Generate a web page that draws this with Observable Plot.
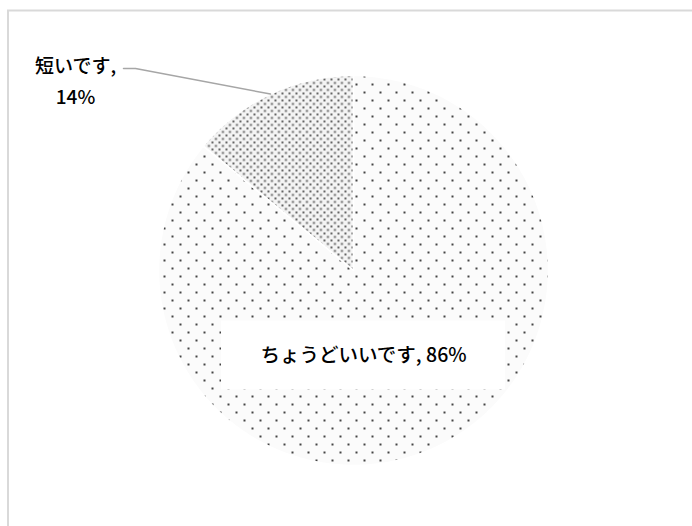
<!DOCTYPE html>
<html><head><meta charset="utf-8">
<script src="https://cdn.jsdelivr.net/npm/d3@7"></script>
<script src="https://cdn.jsdelivr.net/npm/@observablehq/plot@0.6"></script>
<style>body{margin:0;background:#fff;} svg{display:block;}</style>
</head><body><div id="chart"></div>
<script>
// ---- data ----
const categories = ["短いです", "ちょうどいいです"];
const percents = [14, 86];
const labelTexts = ["短いです,\n14%", "ちょうどいいです, 86%"];

// ---- layout ----
const W = 692, H = 526;
const cx = 353, cy = 270, R = 195;   // pixel centre & radius of the pie
const px = v => v / R;               // pixels -> unit radius

const data = categories.map((c, i) => ({key: c, value: percents[i], label: labelTexts[i]}));
const arcs = d3.pie().sort(null).value(d => d.value).startAngle(0).endAngle(-2 * Math.PI)(data);

function slicePolygon(a) {
  const n = Math.max(8, Math.ceil(Math.abs(a.endAngle - a.startAngle) / (2 * Math.PI) * 360));
  const pts = [{x: 0, y: 0}];
  for (let k = 0; k <= n; k++) {
    const t = a.startAngle + (a.endAngle - a.startAngle) * k / n;
    pts.push({x: Math.sin(t), y: Math.cos(t)});
  }
  pts.push({x: 0, y: 0});
  return pts;
}
const fills = ["url(#dense)", "url(#sparse)"];

// label for the small slice (outside, with leader)
const a0 = arcs[0];
const mid0 = (a0.startAngle + a0.endAngle) / 2;
const lab0 = {x: px(75 - cx), y: px(cy - 78)};
const leader = [
  {x: lab0.x + px(48), y: lab0.y + px(10)},
  {x: lab0.x + px(60), y: lab0.y + px(10)},
  {x: Math.sin(mid0) * 1.0, y: Math.cos(mid0) * 1.0}
];
// label for the large slice (inside, white box)
const lab1 = {x: px(10), y: px(cy - 355)};
const box1 = [{x1: lab1.x - px(142), x2: lab1.x + px(142), y1: lab1.y - px(34.5), y2: lab1.y + px(34.5)}];

const font = "'Noto Sans CJK JP', 'Noto Sans', sans-serif";

const chart = Plot.plot({
  width: W, height: H,
  margin: 0,
  x: {domain: [px(-cx), px(W - cx)], range: [0, W], axis: null},
  y: {domain: [px(cy - H), px(cy)], range: [H, 0], axis: null},
  style: {background: "#fff", fontFamily: font},
  marks: [
    Plot.frame({stroke: "#d9d9d9", strokeWidth: 2, insetLeft: 7.5, insetTop: 10, insetRight: -10, insetBottom: -10}),
    ...arcs.map((a, i) => Plot.line(slicePolygon(a), {x: "x", y: "y", fill: fills[i], stroke: "#fff", strokeWidth: 1.5, curve: "linear"})),
    Plot.line(leader, {x: "x", y: "y", stroke: "#a6a6a6", strokeWidth: 1.5}),
    Plot.text([data[0]], {x: () => lab0.x, y: () => lab0.y, text: "label", fontSize: 19, fontWeight: 500, lineHeight: 1.65, fill: "#000", textAnchor: "middle"}),
    Plot.rect(box1, {x1: "x1", x2: "x2", y1: "y1", y2: "y2", fill: "#fff"}),
    Plot.text([data[1]], {x: () => lab1.x, y: () => lab1.y, text: "label", fontSize: 19.5, fontWeight: 500, fill: "#000", textAnchor: "middle"})
  ]
});

const defs = `<defs>
<pattern id="sparse" patternUnits="userSpaceOnUse" width="16" height="16">
  <rect width="16" height="16" fill="#fbfbfb"/>
  <rect x="3" y="3" width="2" height="2" fill="#444"/>
  <rect x="11" y="11" width="2" height="2" fill="#444"/>
</pattern>
<pattern id="dense" patternUnits="userSpaceOnUse" width="7" height="7">
  <rect width="7" height="7" fill="#f4f4f4"/>
  <rect x="1" y="1" width="1.9" height="1.9" fill="#555"/>
  <rect x="4.5" y="4.5" width="1.9" height="1.9" fill="#555"/>
</pattern>
</defs>`;
chart.insertAdjacentHTML("afterbegin", defs);
document.getElementById("chart").appendChild(chart);
</script>
</body></html>
